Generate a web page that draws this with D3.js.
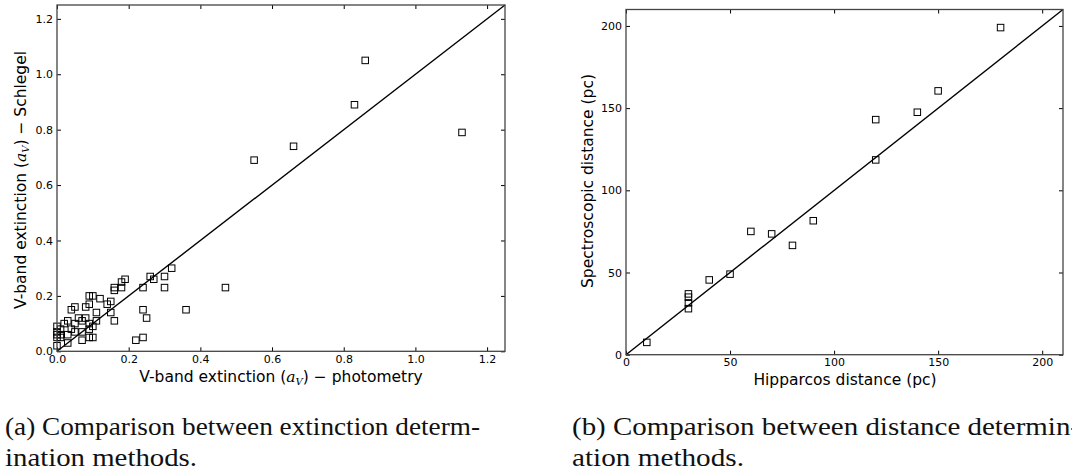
<!DOCTYPE html>
<html>
<head>
<meta charset="utf-8">
<script src="https://cdn.jsdelivr.net/npm/d3@7"></script>
<style>
  html, body { margin: 0; padding: 0; background: #fff; }
  svg { display: block; }
</style>
</head>
<body>
<svg id="chart" width="1072" height="471"></svg>
<script>
// ---- Data: panel (a) extinction comparison ----
const extPhot = [0.86, 0.83, 1.13, 0.66, 0.55, 0.47, 0.36, 0.32, 0.30, 0.30, 0.26, 0.27, 0.24, 0.24, 0.25, 0.24, 0.22,
  0.19, 0.18, 0.18, 0.16, 0.16, 0.16, 0.15, 0.14, 0.15, 0.12, 0.11, 0.11, 0.10, 0.09, 0.09, 0.08, 0.08, 0.10, 0.10,
  0.09, 0.09, 0.09, 0.07, 0.07, 0.07, 0.06, 0.05, 0.04, 0.05, 0.05, 0.04, 0.03, 0.03, 0.03, 0.02, 0.01, 0.01, 0.01,
  0.00, 0.00, 0.00, 0.00, 0.00];
const extSchlegel = [1.05, 0.89, 0.79, 0.74, 0.69, 0.23, 0.15, 0.30, 0.27, 0.23, 0.27, 0.26, 0.23, 0.15, 0.12, 0.05, 0.04,
  0.26, 0.25, 0.23, 0.23, 0.22, 0.11, 0.18, 0.17, 0.14, 0.19, 0.14, 0.11, 0.20, 0.20, 0.17, 0.16, 0.12, 0.09, 0.05,
  0.05, 0.08, 0.10, 0.11, 0.04, 0.07, 0.12, 0.16, 0.15, 0.10, 0.07, 0.08, 0.11, 0.06, 0.03, 0.10, 0.08, 0.06, 0.05,
  0.09, 0.07, 0.06, 0.05, 0.02];
const extTicks = [0.0, 0.2, 0.4, 0.6, 0.8, 1.0, 1.2];

// ---- Data: panel (b) distance comparison ----
const distHip = [10, 30, 30, 30, 30, 40, 50, 60, 70, 80, 90, 120, 120, 140, 150, 180];
const distSpec = [7.5, 37, 35, 31.5, 28, 45.5, 49, 75, 73.5, 66.5, 81.5, 143, 118.5, 147.5, 160.5, 199];
const distTicks = [0, 50, 100, 150, 200];

const captionA = ["(a) Comparison between extinction determ-", "ination methods."];
const captionB = ["(b) Comparison between distance determin-", "ation methods."];

const svg = d3.select("#chart");
const tickFont = "DejaVu Sans, sans-serif";

function panel(cfg) {
  const g = svg.append("g");
  const x = d3.scaleLinear().domain(cfg.domain).range([cfg.left, cfg.right]);
  const y = d3.scaleLinear().domain(cfg.domain).range([cfg.bottom, cfg.top]);

  // identity line
  g.append("line")
    .attr("x1", x(cfg.domain[0])).attr("y1", y(cfg.domain[0]))
    .attr("x2", x(cfg.domain[1])).attr("y2", y(cfg.domain[1]))
    .attr("stroke", "#000").attr("stroke-width", 1.4);

  // points (open squares)
  const s = 6.5;
  g.selectAll("rect.pt").data(cfg.xs.map((v, i) => [v, cfg.ys[i]]))
    .enter().append("rect")
    .attr("class", "pt")
    .attr("x", d => x(d[0]) - s / 2).attr("y", d => y(d[1]) - s / 2)
    .attr("width", s).attr("height", s)
    .attr("fill", "none").attr("stroke", "#000").attr("stroke-width", 1);

  const fmt = cfg.fmt;
  const axB = g.append("g").attr("transform", `translate(0,${cfg.bottom})`)
    .call(d3.axisBottom(x).tickValues(cfg.ticks).tickFormat(fmt).tickSize(-4).tickSizeOuter(0).tickPadding(4));
  const axT = g.append("g").attr("transform", `translate(0,${cfg.top})`)
    .call(d3.axisTop(x).tickValues(cfg.ticks).tickFormat("").tickSize(-4).tickSizeOuter(0));
  const axL = g.append("g").attr("transform", `translate(${cfg.left},0)`)
    .call(d3.axisLeft(y).tickValues(cfg.ticks).tickFormat(fmt).tickSize(-4).tickSizeOuter(0).tickPadding(4));
  const axR = g.append("g").attr("transform", `translate(${cfg.right},0)`)
    .call(d3.axisRight(y).tickValues(cfg.ticks).tickFormat("").tickSize(-4).tickSizeOuter(0));
  [axB, axT, axL, axR].forEach(a => {
    a.select(".domain").remove();
    a.selectAll(".tick line").attr("stroke", "#000").attr("stroke-width", 1);
    a.selectAll("text").attr("font-family", tickFont).attr("font-size", 11).attr("fill", "#000");
  });

  // frame
  g.append("rect")
    .attr("x", cfg.left).attr("y", cfg.top)
    .attr("width", cfg.right - cfg.left).attr("height", cfg.bottom - cfg.top)
    .attr("fill", "none").attr("stroke", "#444").attr("stroke-width", 1.3);

  return { g, x, y };
}

const pA = panel({ left: 57, right: 505, top: 5, bottom: 351.3, domain: [0, 1.25],
  xs: extPhot, ys: extSchlegel, ticks: extTicks, fmt: d3.format(".1f") });
const pB = panel({ left: 626, right: 1063, top: 9.5, bottom: 354.7, domain: [0, 210],
  xs: distHip, ys: distSpec, ticks: distTicks, fmt: d3.format("d") });

// axis labels
function mathLabel(sel, pre, post) {
  sel.append("tspan").text(pre);
  sel.append("tspan").attr("font-family", "DejaVu Serif, serif").attr("font-style", "italic").text("a");
  sel.append("tspan").attr("font-family", "DejaVu Serif, serif").attr("font-style", "italic")
    .attr("font-size", 10).attr("dy", 3).text("V");
  sel.append("tspan").attr("dy", -3).text(post);
}
const lab = { "font-family": tickFont, "font-size": 15.5, "fill": "#000" };
function styl(t) { Object.entries(lab).forEach(([k, v]) => t.attr(k, v)); return t; }

mathLabel(styl(svg.append("text")).attr("x", 281).attr("y", 382).attr("text-anchor", "middle"),
  "V-band extinction (", ") \u2212 photometry");
mathLabel(styl(svg.append("text")).attr("text-anchor", "middle")
  .attr("transform", "translate(26,180) rotate(-90)"),
  "V-band extinction (", ") \u2212 Schlegel");
styl(svg.append("text")).attr("x", 845).attr("y", 385).attr("text-anchor", "middle")
  .text("Hipparcos distance (pc)");
styl(svg.append("text")).attr("text-anchor", "middle")
  .attr("transform", "translate(593,181) rotate(-90)")
  .text("Spectroscopic distance (pc)");

// captions
const capFont = "Liberation Serif, 'Times New Roman', serif";
function caption(lines, x, widths) {
  lines.forEach((t, i) => {
    svg.append("text").attr("x", x).attr("y", 435 + i * 31)
      .attr("font-family", capFont).attr("font-size", 25).attr("fill", "#111")
      .attr("textLength", widths[i]).attr("lengthAdjust", "spacingAndGlyphs")
      .text(t);
  });
}
caption(captionA, 5, [475, 192]);
caption(captionB, 572, [508, 172]);
</script>
</body>
</html>
